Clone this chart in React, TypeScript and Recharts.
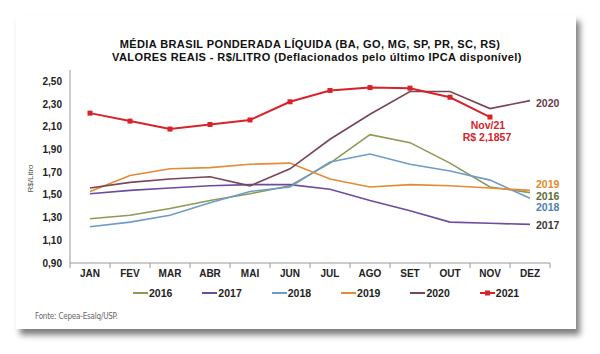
import { LineChart, Line, XAxis, YAxis, LabelList, Label } from 'recharts'

const months = ['JAN', 'FEV', 'MAR', 'ABR', 'MAI', 'JUN', 'JUL', 'AGO', 'SET', 'OUT', 'NOV', 'DEZ']
const v2016 = [1.29, 1.32, 1.38, 1.45, 1.51, 1.58, 1.78, 2.03, 1.96, 1.78, 1.57, 1.52]
const v2017 = [1.51, 1.54, 1.56, 1.58, 1.59, 1.59, 1.55, 1.45, 1.36, 1.26, 1.25, 1.24]
const v2018 = [1.22, 1.26, 1.32, 1.43, 1.53, 1.57, 1.79, 1.86, 1.77, 1.71, 1.63, 1.47]
const v2019 = [1.53, 1.67, 1.73, 1.74, 1.77, 1.78, 1.64, 1.57, 1.59, 1.58, 1.56, 1.54]
const v2020 = [1.56, 1.61, 1.64, 1.66, 1.58, 1.73, 1.99, 2.21, 2.41, 2.41, 2.26, 2.33]
const v2021 = [2.22, 2.15, 2.08, 2.12, 2.16, 2.32, 2.42, 2.445, 2.44, 2.36, 2.1857, null]
const yTicks = [0.9, 1.1, 1.3, 1.5, 1.7, 1.9, 2.1, 2.3, 2.5]

const series = [
  { key: 'y2016', name: '2016', color: '#8C9A55', labelColor: '#5E6B3A', dy: 3 },
  { key: 'y2017', name: '2017', color: '#6E4B9E', labelColor: '#3A3A3A', dy: 1 },
  { key: 'y2018', name: '2018', color: '#6D9CC9', labelColor: '#4F7FB0', dy: 9 },
  { key: 'y2019', name: '2019', color: '#E38B36', labelColor: '#E08A30', dy: -6 },
  { key: 'y2020', name: '2020', color: '#7A4656', labelColor: '#6A3C4C', dy: 2 },
]
const red = '#D8232A'

const data = months.map((m, i) => ({
  month: m,
  y2016: v2016[i],
  y2017: v2017[i],
  y2018: v2018[i],
  y2019: v2019[i],
  y2020: v2020[i],
  y2021: v2021[i],
}))

const fmt = (v: number) => v.toFixed(2).replace('.', ',')
const font = 'Arial, "Liberation Sans", sans-serif'

function MonthTick(props: any) {
  const { x, y, payload } = props
  const half = payload.offset || 20
  return (
    <g>
      <line x1={x + half} y1={y - 10} x2={x + half} y2={y - 5} stroke="#999" />
      {payload.index === 0 && <line x1={x - half} y1={y - 10} x2={x - half} y2={y - 5} stroke="#999" />}
      <text x={x} y={y} dy={4} textAnchor="middle" fontSize={10} fontWeight="bold" fill="#222" fontFamily={font}>
        {payload.value}
      </text>
    </g>
  )
}

function SquareDot(props: any) {
  const { cx, cy } = props
  if (cy == null) return null
  return <rect x={cx - 2.5} y={cy - 2.5} width={5} height={5} fill={red} />
}

function endLabel(name: string, color: string, dy: number) {
  return (p: any) => {
    if (p.index !== months.length - 1) return null
    return (
      <text x={p.x + 6} y={p.y + dy} dy={4} fontSize={10.5} fontWeight="bold" fill={color} fontFamily={font}>
        {name}
      </text>
    )
  }
}

function novLabel(p: any) {
  if (p.index !== 10) return null
  return (
    <g fontSize={10.5} fontWeight="bold" fill={red} fontFamily={font} textAnchor="middle">
      <text x={p.x - 2} y={p.y + 12}>Nov/21</text>
      <text x={p.x - 3} y={p.y + 24}>R$ 2,1857</text>
    </g>
  )
}

const legendItems = [...series, { key: 'y2021', name: '2021', color: red }]

export default function App() {
  return (
    <div style={{ position: 'absolute', left: 0, top: 0, width: 600, height: 354, background: '#fff', overflow: 'hidden' }}>
      <div
        style={{
          position: 'absolute', left: 16, top: 15, width: 560, height: 314, background: '#fff',
          boxShadow: '4px 6px 6px rgba(0,0,0,0.5)',
        }}
      />
      <div
        style={{
          position: 'absolute', left: 60, top: 38, width: 500, textAlign: 'center', fontFamily: font,
          fontWeight: 'bold', fontSize: 11, letterSpacing: 0.4, lineHeight: '13px', color: '#111',
        }}
      >
        <div>MÉDIA BRASIL PONDERADA LÍQUIDA (BA, GO, MG, SP, PR, SC, RS)</div>
        <div style={{ marginLeft: 14 }}>VALORES REAIS - R$/LITRO (Deflacionados pelo último IPCA disponível)</div>
      </div>
      <div style={{ position: 'absolute', left: 0, top: 0 }}>
        <LineChart width={600} height={354} data={data} margin={{ top: 70, right: 50, left: 0, bottom: 61 }}>
          <XAxis
            dataKey="month"
            scale="band"
            stroke="#999"
            tickLine={false}
            tickSize={0}
            tickMargin={10}
            height={30}
            interval={0}
            tick={<MonthTick />}
          />
          <YAxis
            domain={[0.9, 2.6]}
            ticks={yTicks}
            width={70}
            stroke="#999"
            tickLine={false}
            tickFormatter={fmt}
            tick={{ fontSize: 10, fontWeight: 'bold', fill: '#222', fontFamily: font }}
            allowDataOverflow
          >
            <Label
              content={(p: any) => {
                const vb = p.viewBox
                const cx = 33
                const cy = vb.y + vb.height / 2 + 12
                return (
                  <text x={cx} y={cy} transform={`rotate(-90 ${cx} ${cy})`} textAnchor="middle" fontSize={8} fill="#555" fontFamily={font}>
                    R$/Litro
                  </text>
                )
              }}
            />
          </YAxis>
          {series.map((s) => (
            <Line key={s.key} type="linear" dataKey={s.key} stroke={s.color} strokeWidth={1.6} dot={false} isAnimationActive={false}>
              <LabelList dataKey={s.key} content={endLabel(s.name, s.labelColor, s.dy)} />
            </Line>
          ))}
          <Line type="linear" dataKey="y2021" stroke={red} strokeWidth={2} dot={<SquareDot />} isAnimationActive={false}>
            <LabelList dataKey="y2021" content={novLabel} />
          </Line>
        </LineChart>
      </div>
      <div style={{ position: 'absolute', left: 133, top: 287, display: 'flex', fontFamily: font, fontWeight: 'bold', fontSize: 10.5, color: '#222' }}>
        {legendItems.map((it) => (
          <div key={it.key} style={{ display: 'flex', alignItems: 'center', marginRight: 30 }}>
            <svg width={15} height={12} style={{ marginRight: 1 }}>
              <line x1={0} y1={6} x2={15} y2={6} stroke={it.color} strokeWidth={2} />
              {it.key === 'y2021' && <rect x={5} y={3.5} width={5} height={5} fill={red} />}
            </svg>
            <span>{it.name}</span>
          </div>
        ))}
      </div>
      <div style={{ position: 'absolute', left: 35, top: 312, fontFamily: '"Liberation Sans Narrow", "DejaVu Sans Condensed", Arial, sans-serif', fontSize: 8, color: '#666', letterSpacing: -0.2 }}>
        Fonte: Cepea-Esalq/USP.
      </div>
    </div>
  )
}
